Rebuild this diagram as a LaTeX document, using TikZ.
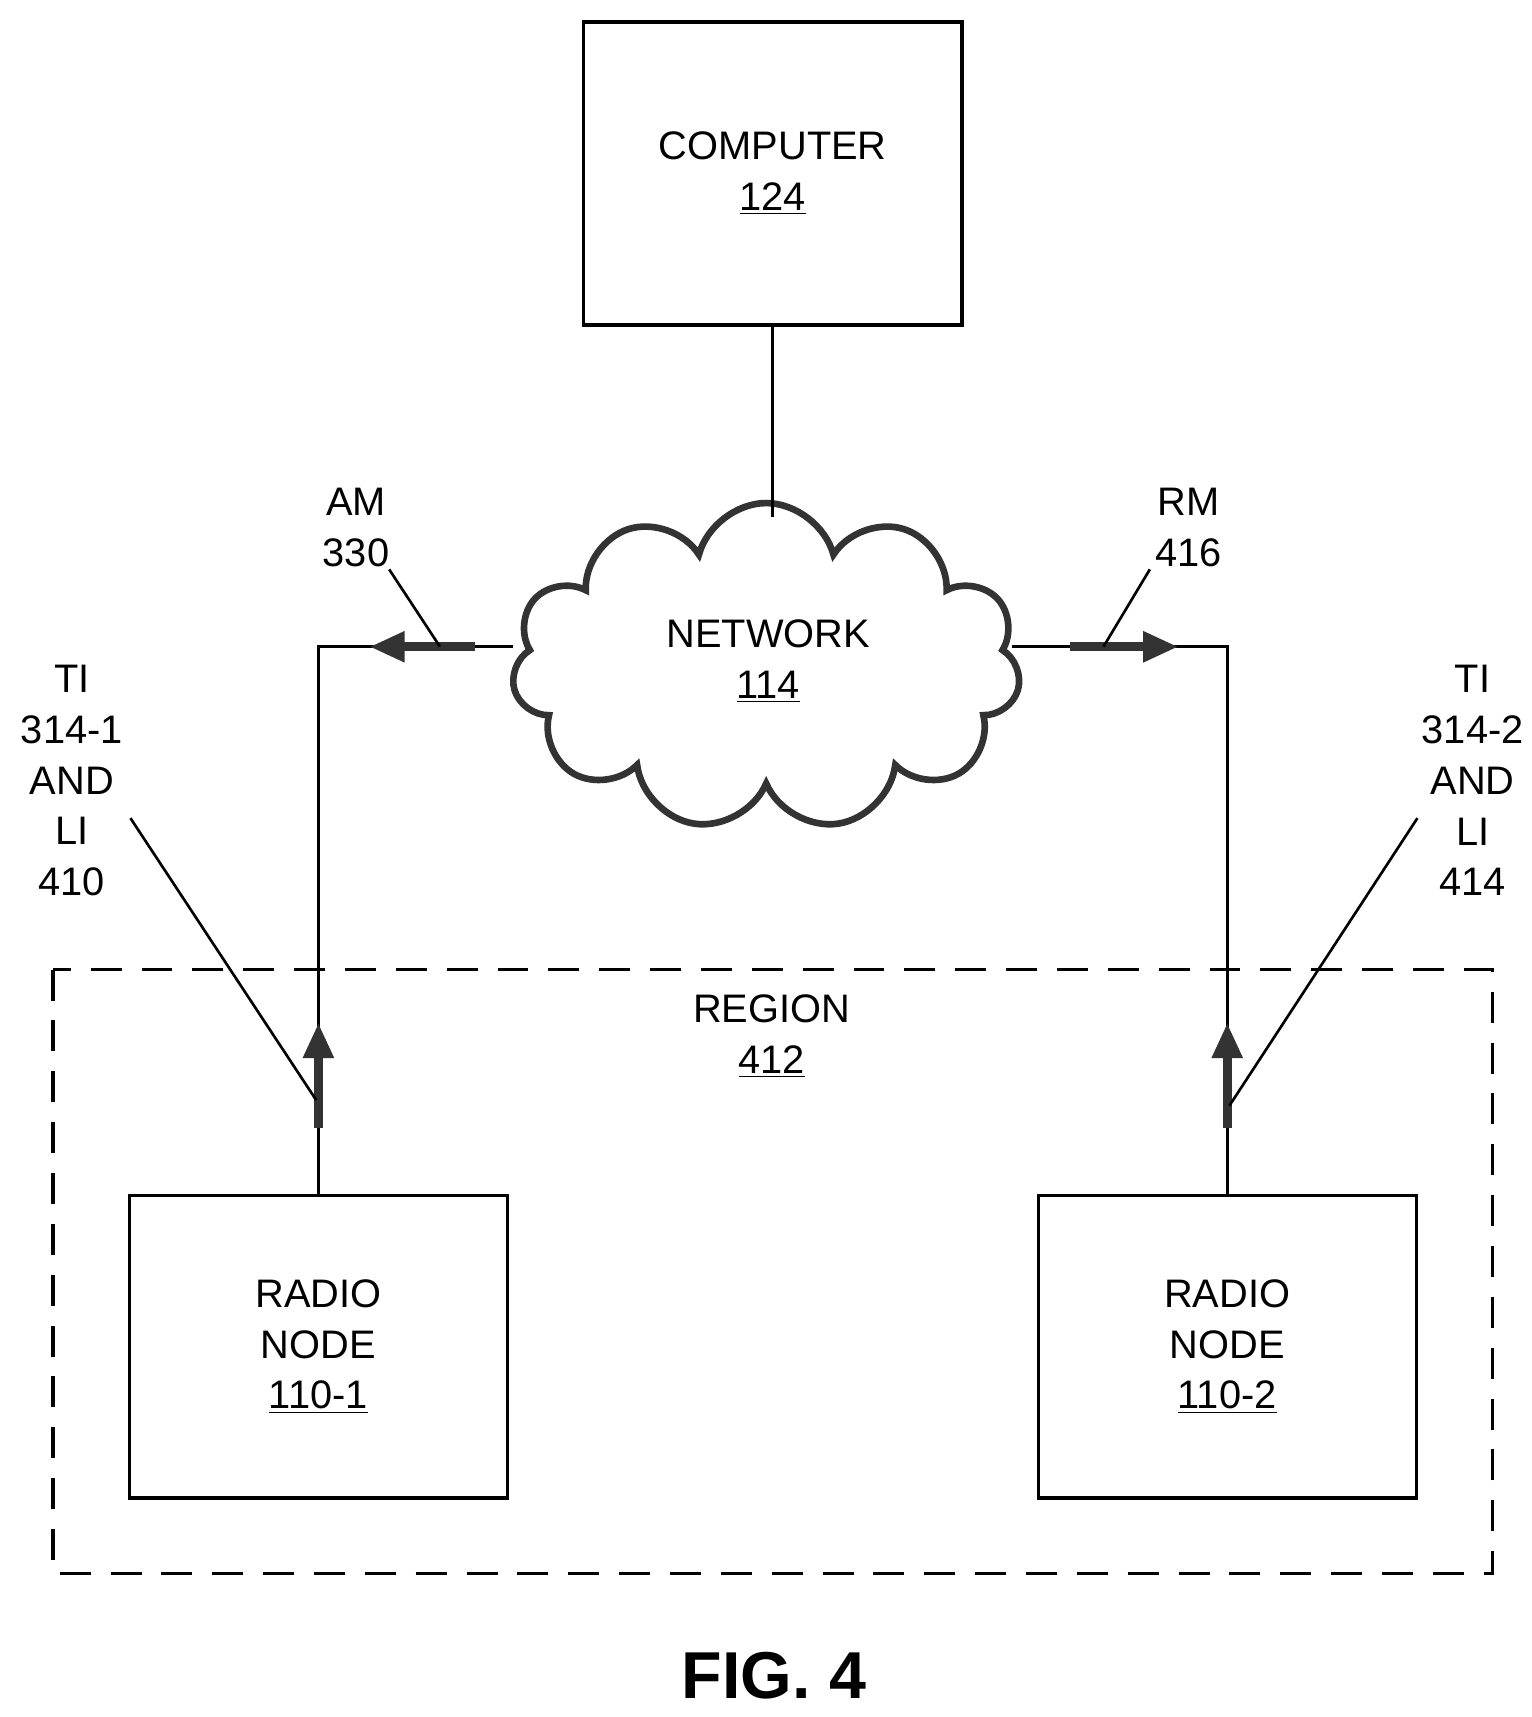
\documentclass[tikz,border=0pt]{standalone}
\usepackage{fontspec}
\setmainfont{Liberation Sans}
\usetikzlibrary{shapes.symbols,arrows.meta}
\begin{document}
\begin{tikzpicture}[x=0.5pt,y=-0.5pt,
  lbl/.style={font=\fontsize{18}{23}\selectfont,align=center,inner sep=0},
  box/.style={draw,line width=1.5pt},
  ln/.style={line width=1.2pt},
  big/.style={line width=4pt,-{Triangle[length=16pt,width=13pt]},color=black!80}]
\useasboundingbox (0,0) rectangle (1385,1553);
\node[box,minimum width=171pt,minimum height=137pt] (comp) at (699,157) {};
\node[lbl] at (699,157) {COMPUTER\\\underline{124}};
\node[cloud,cloud puffs=11,draw=black!80,line width=3pt,minimum width=230pt,minimum height=148pt,aspect=1.5] (net) at (693,603) {};
\node[lbl] at (695,598) {NETWORK\\\underline{114}};
\draw[ln] (comp.south) -- (699,468);
\node[box,minimum width=171pt,minimum height=137pt] (r1) at (288,1218) {};
\node[lbl] at (288,1218) {RADIO\\NODE\\\underline{110-1}};
\node[box,minimum width=171pt,minimum height=137pt] (r2) at (1110,1218) {};
\node[lbl] at (1110,1218) {RADIO\\NODE\\\underline{110-2}};
\draw[line width=1.5pt,dash pattern=on 14pt off 9pt] (48,877) rectangle (1350,1423);
\node[lbl] (reg) at (698,937) {REGION\\\underline{412}};
\coordinate (cl) at (464,585); \coordinate (cr) at (915,585);
\coordinate (kl) at (288,585); \coordinate (kr) at (1110,585);
\draw[ln] (cl) -- (kl) -- (r1.north);
\draw[ln] (cr) -- (kr) -- (r2.north);
\coordinate (a1s) at (430,585); \coordinate (a1e) at (334,585);
\draw[big] (a1s) -- (a1e);
\coordinate (a2s) at (968,585); \coordinate (a2e) at (1066,585);
\draw[big] (a2s) -- (a2e);
\coordinate (u1s) at (288,1020); \coordinate (u1e) at (288,925);
\draw[big] (u1s) -- (u1e);
\coordinate (u2s) at (1110,1020); \coordinate (u2e) at (1110,925);
\draw[big] (u2s) -- (u2e);
\node[lbl] (am) at (322,477) {AM\\330};
\node[lbl] (rm) at (1075,477) {RM\\416};
\node[lbl] (ti1) at (65,706) {TI\\314-1\\AND\\LI\\410};
\node[lbl] (ti2) at (1332,706) {TI\\314-2\\AND\\LI\\414};
\coordinate (am1) at (352,515); \coordinate (am2) at (398,585);
\draw[ln] (am1) -- (am2);
\coordinate (rm1) at (1040,515); \coordinate (rm2) at (998,585);
\draw[ln] (rm1) -- (rm2);
\coordinate (t11) at (118,740); \coordinate (t12) at (286,995);
\draw[ln] (t11) -- (t12);
\coordinate (t21) at (1282,740); \coordinate (t22) at (1112,1000);
\draw[ln] (t21) -- (t22);
\node[font=\bfseries\fontsize{30}{34}\selectfont,inner sep=0] (fig) at (700,1516) {FIG. 4};
\end{tikzpicture}
\end{document}
